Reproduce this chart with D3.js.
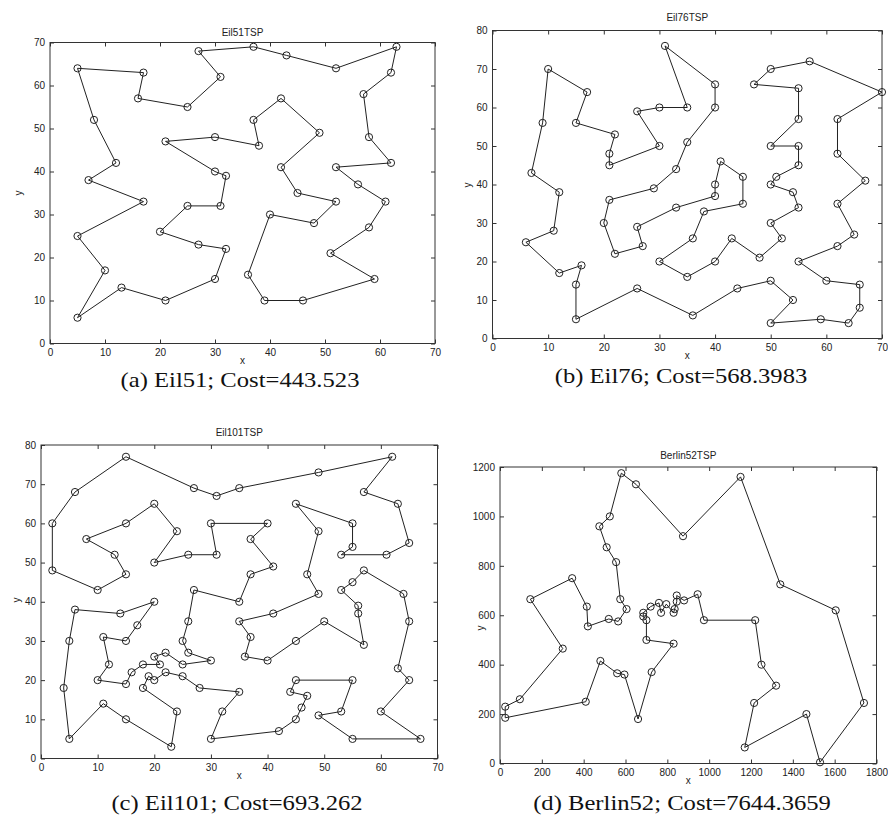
<!DOCTYPE html>
<html>
<head>
<meta charset="utf-8">
<script src="https://cdn.jsdelivr.net/npm/d3@7/dist/d3.min.js"></script>
<style>
  body { margin: 0; background: #fff; }
  svg { display: block; }
  .tick text { font-family: 'Liberation Sans Narrow', 'Liberation Sans', Arial, sans-serif; font-size: 10px; fill: #222; }
  .tick line { stroke: #333; }
  .title, .axlabel { font-family: 'Liberation Sans Narrow', 'Liberation Sans', Arial, sans-serif; font-size: 10px; fill: #222; }
  .caption { font-family: 'Liberation Serif', 'Times New Roman', serif; font-size: 22px; fill: #111; }
</style>
</head>
<body>
<div id="chart"></div>
<script>
// tours, in visiting order (closed loops)
const eil51Tour = [
  [5,64],[17,63],[16,57],[25,55],[31,62],[27,68],[37,69],[43,67],[52,64],[63,69],
  [62,63],[57,58],[58,48],[62,42],[52,41],[56,37],[61,33],[58,27],[51,21],[59,15],
  [46,10],[39,10],[36,16],[40,30],[48,28],[52,33],[45,35],[42,41],[49,49],[42,57],
  [37,52],[38,46],[30,48],[21,47],[30,40],[32,39],[31,32],[25,32],[20,26],[27,23],
  [32,22],[30,15],[21,10],[13,13],[5,6],[10,17],[5,25],[17,33],[7,38],[12,42],[8,52]
];

const eil76Tour = [
  [31,76],[40,66],[40,60],[35,51],[33,44],[29,39],[21,36],[20,30],[22,22],[27,24],
  [26,29],[33,34],[40,37],[40,40],[41,46],[45,42],[45,35],[38,33],[36,26],[30,20],
  [35,16],[40,20],[43,26],[48,21],[52,26],[50,30],[55,34],[54,38],[50,40],[51,42],
  [55,45],[55,50],[50,50],[55,57],[55,65],[47,66],[50,70],[57,72],[70,64],[62,57],
  [62,48],[67,41],[62,35],[65,27],[62,24],[55,20],[60,15],[66,14],[66,8],[64,4],
  [59,5],[50,4],[54,10],[50,15],[44,13],[36,6],[26,13],[15,5],[15,14],[16,19],
  [12,17],[6,25],[11,28],[12,38],[7,43],[9,56],[10,70],[17,64],[15,56],[22,53],
  [21,48],[21,45],[30,50],[26,59],[30,60],[35,60]
];

const eil101Tour = [
  [15,77],[6,68],[2,60],[2,48],[10,43],[15,47],[13,52],[8,56],[15,60],[20,65],
  [24,58],[20,50],[26,52],[31,52],[30,60],[40,60],[37,56],[41,49],[37,47],[35,40],
  [27,43],[26,35],[25,30],[26,27],[30,25],[25,24],[22,27],[20,26],[21,24],[18,24],
  [16,22],[15,19],[10,20],[12,24],[11,31],[15,30],[17,34],[20,40],[14,37],[6,38],
  [5,30],[4,18],[5,5],[11,14],[15,10],[23,3],[24,12],[18,18],[19,21],[20,20],
  [22,22],[25,21],[28,18],[35,17],[32,12],[30,5],[42,7],[45,10],[46,13],[47,16],
  [44,17],[45,20],[55,20],[53,12],[49,11],[55,5],[67,5],[60,12],[65,20],[63,23],
  [65,35],[64,42],[57,48],[55,45],[53,43],[56,39],[56,37],[57,29],[50,35],[45,30],
  [40,25],[36,26],[37,31],[35,35],[41,37],[49,42],[47,47],[49,58],[45,65],[55,60],
  [55,54],[53,52],[61,52],[65,55],[63,65],[57,68],[62,77],[49,73],[35,69],[31,67],
  [27,69]
];

const berlin52Tour = [
  [580,1175],[650,1130],[875,920],[1150,1160],[1340,725],[1605,620],[1740,245],[1530,5],
  [1465,200],[1170,65],[1215,245],[1320,315],[1250,400],[1220,580],[975,580],[945,685],
  [880,660],[845,680],[845,655],[835,625],[830,610],[795,645],[770,610],[760,650],
  [720,635],[685,610],[685,595],[700,580],[700,500],[830,485],[725,370],[660,180],
  [595,360],[560,365],[480,415],[410,250],[25,185],[25,230],[95,260],[300,465],
  [145,665],[345,750],[415,635],[420,555],[520,585],[565,575],[605,625],[575,665],
  [555,815],[510,875],[475,960],[525,1000]
];

const eilTicksX = [0, 10, 20, 30, 40, 50, 60, 70];
const eil51TicksY = [0, 10, 20, 30, 40, 50, 60, 70];
const eilTicksY = [0, 10, 20, 30, 40, 50, 60, 70, 80];
const berlinTicksX = [0, 200, 400, 600, 800, 1000, 1200, 1400, 1600, 1800];
const berlinTicksY = [0, 200, 400, 600, 800, 1000, 1200];

const titles = ['Eil51TSP', 'Eil76TSP', 'Eil101TSP', 'Berlin52TSP'];
const captions = [
  '(a) Eil51; Cost=443.523',
  '(b) Eil76; Cost=568.3983',
  '(c) Eil101; Cost=693.262',
  '(d) Berlin52; Cost=7644.3659'
];

const width = 888;
const height = 834;

const svg = d3.select('#chart')
  .append('svg')
  .attr('width', width)
  .attr('height', height);

// where each plot box sits on the page (left, right, bottom, top) plus text offsets
const panels = [
  { tour: eil51Tour, xt: eilTicksX, yt: eil51TicksY, box: [50, 435, 343.5, 42.5], titleDy: 7, capX: 240, capY: 387, yLabX: 22, yLabY: 193 },
  { tour: eil76Tour, xt: eilTicksX, yt: eilTicksY, box: [492.5, 882, 338.5, 30.5], titleDy: 9.5, capX: 681, capY: 383, yLabX: 471, yLabY: 185 },
  { tour: eil101Tour, xt: eilTicksX, yt: eilTicksY, box: [41, 437.5, 758.5, 445], titleDy: 9, capX: 237, capY: 810, yLabX: 20, yLabY: 600 },
  { tour: berlin52Tour, xt: berlinTicksX, yt: berlinTicksY, box: [500, 876.5, 763.5, 467], titleDy: 8, capX: 682, capY: 810, yLabX: 484, yLabY: 628 }
];

panels.forEach((p, i) => drawPanel(p, titles[i], captions[i]));

function drawPanel(p, title, caption) {
  const [left, right, bottom, top] = p.box;
  const x = d3.scaleLinear()
    .domain(d3.extent(p.xt))
    .range([left, right]);
  const y = d3.scaleLinear()
    .domain(d3.extent(p.yt))
    .range([bottom, top]);
  const fmt = d3.format('d');

  const g = svg.append('g');

  // ticks point inwards on all four sides, like a matlab box
  g.append('g')
    .attr('transform', `translate(0, ${bottom})`)
    .call(d3.axisBottom(x).tickValues(p.xt).tickFormat(fmt).tickSizeInner(-4).tickSizeOuter(0).tickPadding(5))
    .call(a => a.select('.domain').remove());
  g.append('g')
    .attr('transform', `translate(0, ${top})`)
    .call(d3.axisTop(x).tickValues(p.xt).tickSizeInner(-4).tickSizeOuter(0).tickFormat(''))
    .call(a => a.select('.domain').remove());
  g.append('g')
    .attr('transform', `translate(${left}, 0)`)
    .call(d3.axisLeft(y).tickValues(p.yt).tickFormat(fmt).tickSizeInner(-4).tickSizeOuter(0).tickPadding(5))
    .call(a => a.select('.domain').remove());
  g.append('g')
    .attr('transform', `translate(${right}, 0)`)
    .call(d3.axisRight(y).tickValues(p.yt).tickSizeInner(-4).tickSizeOuter(0).tickFormat(''))
    .call(a => a.select('.domain').remove());

  g.append('rect')
    .attr('x', left)
    .attr('y', top)
    .attr('width', right - left)
    .attr('height', bottom - top)
    .attr('fill', 'none')
    .attr('stroke', '#333')
    .attr('stroke-width', 1);

  const line = d3.line()
    .x(d => x(d[0]))
    .y(d => y(d[1]))
    .curve(d3.curveLinearClosed);

  g.append('path')
    .attr('d', line(p.tour))
    .attr('fill', 'none')
    .attr('stroke', '#222')
    .attr('stroke-width', 1);

  g.selectAll('circle')
    .data(p.tour)
    .enter()
    .append('circle')
    .attr('cx', d => x(d[0]))
    .attr('cy', d => y(d[1]))
    .attr('r', 3.6)
    .attr('fill', 'none')
    .attr('stroke', '#222')
    .attr('stroke-width', 1);

  const cx = (left + right) / 2;
  g.append('text')
    .attr('class', 'title')
    .attr('x', cx)
    .attr('y', top - p.titleDy)
    .attr('text-anchor', 'middle')
    .text(title);

  g.append('text')
    .attr('class', 'axlabel')
    .attr('x', cx)
    .attr('y', bottom + 20)
    .attr('text-anchor', 'middle')
    .text('x');

  g.append('text')
    .attr('class', 'axlabel')
    .attr('transform', `translate(${p.yLabX}, ${p.yLabY}) rotate(-90)`)
    .attr('text-anchor', 'middle')
    .text('y');

  // the caption in the picture is a little wider than the serif font gives
  g.append('text')
    .attr('class', 'caption')
    .attr('transform', `translate(${p.capX}, ${p.capY}) scale(1.12, 1)`)
    .attr('text-anchor', 'middle')
    .text(caption);
}
</script>
</body>
</html>
